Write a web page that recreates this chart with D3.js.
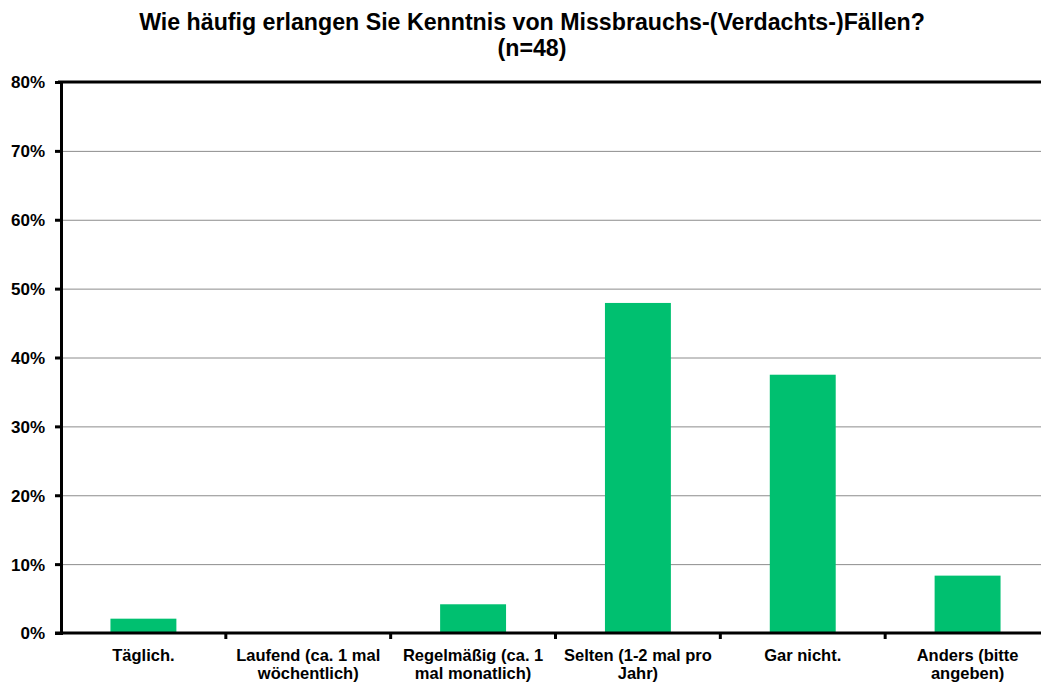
<!DOCTYPE html>
<html>
<head>
<meta charset="utf-8">
<script src="https://cdn.jsdelivr.net/npm/d3@7"></script>
<style>
  body { margin: 0; background: #fff; }
  svg text { font-family: "Liberation Sans", Arial, sans-serif; font-weight: bold; fill: #000; }
  .grid line { stroke: #8c8c8c; stroke-width: 1; }
</style>
</head>
<body>
<svg id="chart" width="1041" height="684"></svg>
<script>
// data (n=48)
var categories = [
  ["Täglich."],
  ["Laufend (ca. 1 mal", "wöchentlich)"],
  ["Regelmäßig (ca. 1", "mal monatlich)"],
  ["Selten (1-2 mal pro", "Jahr)"],
  ["Gar nicht."],
  ["Anders (bitte", "angeben)"]
];
var values = [0.0208, 0, 0.0417, 0.4792, 0.375, 0.0833];
var yTicks = [0, 0.1, 0.2, 0.3, 0.4, 0.5, 0.6, 0.7, 0.8];
var titleLines = ["Wie häufig erlangen Sie Kenntnis von Missbrauchs-(Verdachts-)Fällen?", "(n=48)"];

var svg = d3.select("#chart"),
    margin = {top: 82, right: 0, bottom: 51, left: 61},
    width = 1041 - margin.left - margin.right,
    height = 684 - margin.top - margin.bottom,
    plotWidth = 989; // category area runs a bit past the right edge

var g = svg.append("g").attr("transform", "translate(" + margin.left + "," + margin.top + ")");

var x = d3.scaleBand()
  .domain(d3.range(categories.length))
  .range([0, plotWidth])
  .paddingInner(0.6)
  .paddingOuter(0.3);

var xBound = d3.scaleLinear().domain([0, categories.length]).range([0, plotWidth]);

var y = d3.scaleLinear().domain([0, 0.8]).range([height, 0]);
var formatPercent = d3.format(".0%");

// gridlines
g.append("g")
  .attr("class", "grid")
  .call(d3.axisLeft(y).tickValues(yTicks.slice(1, -1)).tickSize(-width).tickFormat(""))
  .call(function(s) { s.select(".domain").remove(); });

// bars
g.selectAll("rect.bar")
  .data(values)
  .enter().append("rect")
  .attr("class", "bar")
  .attr("x", function(d, i) { return x(i); })
  .attr("width", x.bandwidth())
  .attr("y", function(d) { return y(d); })
  .attr("height", function(d) { return height - y(d); })
  .attr("fill", "#00c070");

// top frame line
g.append("line")
  .attr("x1", -3).attr("x2", width)
  .attr("y1", y(0.8)).attr("y2", y(0.8))
  .attr("stroke", "#000").attr("stroke-width", 3);

// y axis
var yAxis = g.append("g")
  .call(d3.axisLeft(y).tickValues(yTicks).tickSize(6).tickFormat(formatPercent));
yAxis.select(".domain").attr("stroke", "#000").attr("stroke-width", 3);
yAxis.selectAll(".tick line").attr("stroke", "#000").attr("stroke-width", 3);
yAxis.selectAll("text").attr("x", -16).attr("dy", "0.35em").style("font-size", "17px");

// x axis: line and boundary ticks
var xAxis = g.append("g").attr("transform", "translate(0," + height + ")");
xAxis.append("line")
  .attr("x1", -6).attr("x2", width)
  .attr("stroke", "#000").attr("stroke-width", 3);
xAxis.selectAll("line.tk")
  .data(d3.range(1, categories.length))
  .enter().append("line")
  .attr("class", "tk")
  .attr("x1", function(d) { return xBound(d); })
  .attr("x2", function(d) { return xBound(d); })
  .attr("y1", 0).attr("y2", 6)
  .attr("stroke", "#000").attr("stroke-width", 3);

var labels = xAxis.selectAll("text.cat")
  .data(categories)
  .enter().append("text")
  .attr("class", "cat")
  .attr("text-anchor", "middle")
  .attr("transform", function(d, i) { return "translate(" + (x(i) + x.bandwidth() / 2) + ",28)"; })
  .style("font-size", "16.5px");
labels.selectAll("tspan")
  .data(function(d) { return d; })
  .enter().append("tspan")
  .attr("x", 0)
  .attr("dy", function(d, i) { return i === 0 ? 0 : 18; })
  .text(function(d) { return d; });

// title
svg.append("g").selectAll("text")
  .data(titleLines)
  .enter().append("text")
  .attr("x", 532)
  .attr("y", function(d, i) { return 30 + i * 26; })
  .attr("text-anchor", "middle")
  .style("font-size", "23.2px")
  .text(function(d) { return d; });
</script>
</body>
</html>
